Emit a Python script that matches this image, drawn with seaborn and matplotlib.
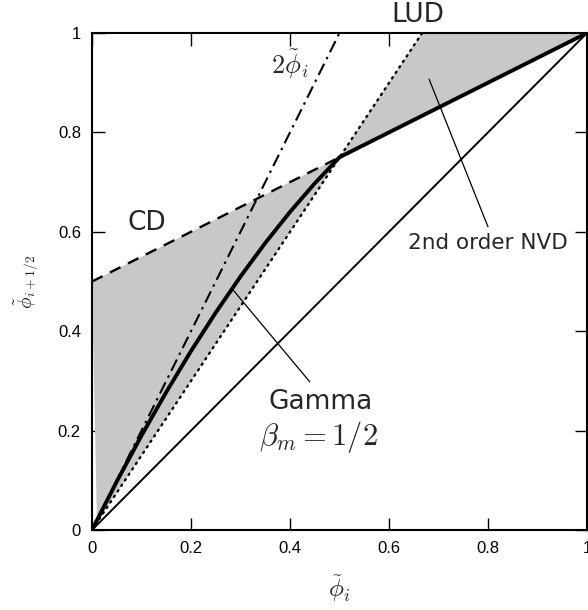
import matplotlib
matplotlib.use("Agg")
import matplotlib.pyplot as plt
import seaborn as sns
import pandas as pd

# ---- data ----
tick_vals = [0, 0.2, 0.4, 0.6, 0.8, 1.0]
tick_labels = ["0", "0.2", "0.4", "0.6", "0.8", "1"]

diag_x = [0.0, 1.0]
diag_y = [0.0, 1.0]
lud_x = [0.0, 0.667]
lud_y = [0.0, 1.0]
cd_x = [0.0, 0.5]
cd_y = [0.5, 0.75]
twophi_x = [0.0, 0.5]
twophi_y = [0.0, 1.0]
gamma_x = [0.0, 0.05, 0.1, 0.15, 0.2, 0.25, 0.3, 0.35, 0.4, 0.45, 0.5, 1.0]
gamma_y = [0.0, 0.0975, 0.19, 0.2775, 0.36, 0.4375, 0.51, 0.5775, 0.64, 0.6975, 0.75, 1.0]
# shaded 2nd-order NVD region (polygon vertices)
region_x = [0.0, 0.5, 1.0, 0.667, 0.5, 0.01]
region_y = [0.5, 0.75, 1.0, 1.0, 0.75, 0.015]

sns.set_style("ticks")
plt.rcParams["font.family"] = ["Liberation Sans", "DejaVu Sans"]
plt.rcParams["mathtext.fontset"] = "cm"

fig = plt.figure(figsize=(5.88, 6.10), dpi=100)
ax = fig.add_axes([92/588, 1 - 530/610, 495/588, 497/610])

ax.fill(region_x, region_y, color="#c8c8c8", lw=0, zorder=1)

def line(x, y, **kw):
    sns.lineplot(data=pd.DataFrame({"x": x, "y": y}), x="x", y="y",
                 ax=ax, sort=False, estimator=None, color="black", **kw)

line(diag_x, diag_y, lw=1.4, zorder=3)
line(lud_x, lud_y, lw=1.7, linestyle=(0, (0.6, 2.2)), dash_capstyle="round", zorder=3)
line(cd_x, cd_y, lw=1.7, linestyle=(0, (5, 3.5)), zorder=3)
line(twophi_x, twophi_y, lw=1.5, linestyle=(0, (6, 2.5, 1.2, 2.5)), zorder=3)
line(gamma_x, gamma_y, lw=2.8, zorder=4)

# leader lines
ax.plot([0.285, 0.44], [0.483, 0.298], color="black", lw=0.9, zorder=4)
ax.plot([0.681, 0.80], [0.907, 0.61], color="black", lw=0.9, zorder=4)

tf = ["DejaVu Sans"]
ax.text(0.659, 1.036, "LUD", fontsize=19, family=tf, ha="center", va="center", clip_on=False)
ax.text(0.111, 0.618, "CD", fontsize=19, family=tf, ha="center", va="center")
ax.text(0.80, 0.577, "2nd order NVD", fontsize=15.5, family=tf, ha="center", va="center")
ax.text(0.461, 0.258, "Gamma", fontsize=19, family=tf, ha="center", va="center")
ax.text(0.458, 0.187, r"$\beta_m = 1/2$", fontsize=22, ha="center", va="center")
ax.text(0.4, 0.936, r"$2\tilde{\phi}_i$", fontsize=19, ha="center", va="center")

ax.set_xlim(0, 1)
ax.set_ylim(0, 1)
ax.set_xticks(tick_vals)
ax.set_xticklabels(tick_labels)
ax.set_yticks(tick_vals)
ax.set_yticklabels(tick_labels)
ax.tick_params(direction="in", length=9, width=1.0, labelsize=12, top=True, right=True,
               colors="black", pad=8)
for s in ax.spines.values():
    s.set_linewidth(1.5)
    s.set_color("black")
    s.set_visible(True)

ax.set_xlabel(r"$\tilde{\phi}_i$", fontsize=18, labelpad=12)
ax.set_ylabel(r"$\tilde{\phi}_{i+1/2}$", fontsize=14, labelpad=12)

fig.savefig("out.png", dpi=100)
